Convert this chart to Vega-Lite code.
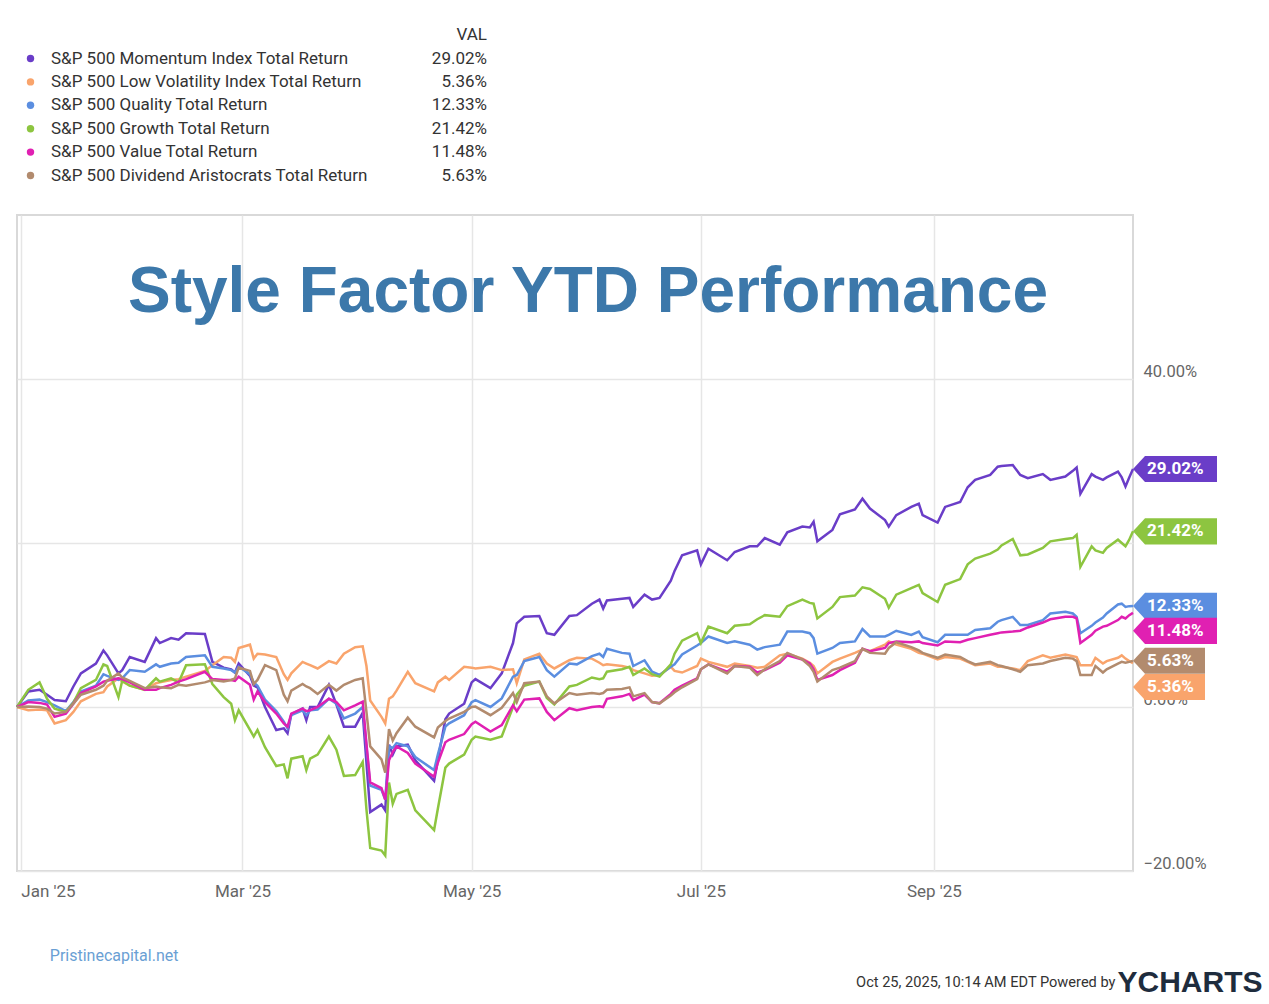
{
  "$schema": "https://vega.github.io/schema/vega-lite/v6.json",
  "width": 1116,
  "height": 656,
  "autosize": {"type": "none"},
  "padding": {"left": 17, "top": 215, "right": 136, "bottom": 133},
  "background": "#ffffff",
  "config": {
    "font": "Roboto",
    "view": {"stroke": "#d9d9d9", "strokeWidth": 2}
  },
  "title": {
    "text": "Style Factor YTD Performance",
    "font": "Liberation Sans",
    "fontSize": 64,
    "fontWeight": "bold",
    "color": "#3c78aa",
    "anchor": "middle",
    "frame": "group",
    "baseline": "alphabetic",
    "offset": -110,
    "dx": 13,
    "dy": 239
  },
  "datasets": {
    "series": [
      {"key": "m", "d": "2025-10-24", "pct": 29.02, "label": "29.02%"},
      {"key": "l", "d": "2025-10-24", "pct": 5.36, "label": "5.36%"},
      {"key": "q", "d": "2025-10-24", "pct": 12.33, "label": "12.33%"},
      {"key": "g", "d": "2025-10-24", "pct": 21.42, "label": "21.42%"},
      {"key": "v", "d": "2025-10-24", "pct": 11.48, "label": "11.48%"},
      {"key": "a", "d": "2025-10-24", "pct": 5.63, "label": "5.63%"}
    ],
    "perf": [
      {"d": "2024-12-31", "m": 0, "l": 0, "q": 0, "g": 0, "v": 0, "a": 0},
      {"d": "2025-01-03", "m": 1.9, "l": -0.4, "q": 0.8, "g": 2.1, "v": 0.6, "a": 0.05},
      {"d": "2025-01-06", "m": 2.1, "l": -0.3, "q": 0.9, "g": 3.0, "v": 0.5, "a": 0.0},
      {"d": "2025-01-08", "m": 1.5, "l": -0.4, "q": 0.6, "g": 1.0, "v": 0.3, "a": -0.2},
      {"d": "2025-01-10", "m": 0.85, "l": -2.0, "q": 0.2, "g": -0.2, "v": -1.2, "a": -0.8},
      {"d": "2025-01-13", "m": 0.7, "l": -1.6, "q": -0.5, "g": -0.6, "v": -0.8, "a": -0.6},
      {"d": "2025-01-15", "m": 2.5, "l": -0.6, "q": 0.6, "g": 0.5, "v": 0.4, "a": 0.4},
      {"d": "2025-01-17", "m": 4.1, "l": 0.7, "q": 1.9, "g": 2.3, "v": 1.7, "a": 1.5},
      {"d": "2025-01-21", "m": 5.3, "l": 1.6, "q": 2.6, "g": 3.3, "v": 2.5, "a": 2.1},
      {"d": "2025-01-23", "m": 6.9, "l": 1.8, "q": 4.0, "g": 5.2, "v": 3.1, "a": 2.6},
      {"d": "2025-01-24", "m": 6.3, "l": 2.5, "q": 3.8, "g": 5.0, "v": 3.2, "a": 3.2},
      {"d": "2025-01-27", "m": 4.1, "l": 3.5, "q": 3.3, "g": 1.2, "v": 3.5, "a": 4.1},
      {"d": "2025-01-28", "m": 4.5, "l": 3.1, "q": 3.5, "g": 3.2, "v": 3.4, "a": 3.6},
      {"d": "2025-01-30", "m": 6.1, "l": 2.6, "q": 4.5, "g": 2.6, "v": 3.0, "a": 3.2},
      {"d": "2025-02-03", "m": 5.5, "l": 2.1, "q": 4.3, "g": 2.1, "v": 2.1, "a": 2.3},
      {"d": "2025-02-06", "m": 8.4, "l": 2.9, "q": 5.2, "g": 3.5, "v": 2.1, "a": 2.5},
      {"d": "2025-02-07", "m": 7.8, "l": 3.0, "q": 4.9, "g": 3.1, "v": 2.3, "a": 2.4},
      {"d": "2025-02-10", "m": 8.4, "l": 3.3, "q": 5.3, "g": 3.5, "v": 2.7, "a": 2.3},
      {"d": "2025-02-12", "m": 8.2, "l": 3.4, "q": 5.4, "g": 3.0, "v": 3.1, "a": 2.7},
      {"d": "2025-02-14", "m": 9.0, "l": 3.7, "q": 6.1, "g": 5.1, "v": 3.4, "a": 2.6},
      {"d": "2025-02-19", "m": 8.9, "l": 4.4, "q": 6.3, "g": 5.2, "v": 4.3, "a": 3.0},
      {"d": "2025-02-21", "m": 5.5, "l": 5.1, "q": 4.9, "g": 2.8, "v": 3.4, "a": 3.3},
      {"d": "2025-02-24", "m": 4.8, "l": 6.1, "q": 4.7, "g": 1.2, "v": 3.3, "a": 3.1},
      {"d": "2025-02-26", "m": 4.6, "l": 6.0, "q": 4.5, "g": 0.4, "v": 3.3, "a": 3.3},
      {"d": "2025-02-27", "m": 4.2, "l": 5.5, "q": 4.2, "g": -1.6, "v": 3.2, "a": 3.5},
      {"d": "2025-02-28", "m": 5.3, "l": 7.2, "q": 4.9, "g": -0.4, "v": 3.7, "a": 4.8},
      {"d": "2025-03-03", "m": 3.8, "l": 7.6, "q": 4.0, "g": -2.8, "v": 2.7, "a": 4.4},
      {"d": "2025-03-04", "m": 2.6, "l": 5.9, "q": 3.0, "g": -3.6, "v": 0.9, "a": 2.8},
      {"d": "2025-03-05", "m": 2.4, "l": 6.5, "q": 2.6, "g": -2.8, "v": 1.9, "a": 3.3},
      {"d": "2025-03-07", "m": 0.0, "l": 6.4, "q": 0.9, "g": -4.9, "v": 0.6, "a": 5.1},
      {"d": "2025-03-10", "m": -2.8, "l": 6.1, "q": -0.5, "g": -7.2, "v": -0.8, "a": 4.5},
      {"d": "2025-03-12", "m": -2.6, "l": 4.0, "q": -1.8, "g": -7.0, "v": -2.0, "a": 1.5},
      {"d": "2025-03-13", "m": -3.2, "l": 3.3, "q": -2.6, "g": -8.7, "v": -2.4, "a": 0.7},
      {"d": "2025-03-14", "m": -0.9, "l": 4.1, "q": -1.0, "g": -6.3, "v": -0.8, "a": 2.0},
      {"d": "2025-03-17", "m": -0.2, "l": 5.5, "q": -0.4, "g": -6.0, "v": -0.2, "a": 2.8},
      {"d": "2025-03-18", "m": -1.6, "l": 5.3, "q": -1.0, "g": -7.7, "v": -0.5, "a": 2.5},
      {"d": "2025-03-19", "m": 0.0, "l": 5.1, "q": -0.4, "g": -6.3, "v": -0.4, "a": 2.3},
      {"d": "2025-03-21", "m": 0.0, "l": 4.7, "q": -0.3, "g": -5.8, "v": 0.0, "a": 1.6},
      {"d": "2025-03-24", "m": 2.7, "l": 5.6, "q": 1.0, "g": -3.6, "v": 1.0, "a": 2.7},
      {"d": "2025-03-26", "m": 0.3, "l": 5.3, "q": 0.4, "g": -5.2, "v": 0.6, "a": 2.0},
      {"d": "2025-03-28", "m": -2.4, "l": 6.5, "q": -1.4, "g": -8.4, "v": -0.4, "a": 2.7},
      {"d": "2025-03-31", "m": -2.4, "l": 7.3, "q": -0.8, "g": -8.3, "v": 0.2, "a": 3.3},
      {"d": "2025-04-02", "m": -0.7, "l": 7.4, "q": 0.0, "g": -6.7, "v": 0.65, "a": 3.5},
      {"d": "2025-04-03", "m": -6.8, "l": 5.0, "q": -4.8, "g": -12.5, "v": -4.5, "a": -0.6},
      {"d": "2025-04-04", "m": -12.8, "l": 0.8, "q": -9.6, "g": -17.2, "v": -9.2, "a": -4.8},
      {"d": "2025-04-07", "m": -11.9, "l": -1.2, "q": -10.1, "g": -17.5, "v": -9.9, "a": -6.4},
      {"d": "2025-04-08", "m": -12.6, "l": -2.0, "q": -11.3, "g": -18.1, "v": -11.3, "a": -8.0},
      {"d": "2025-04-09", "m": -4.6, "l": 1.0, "q": -4.8, "g": -9.2, "v": -6.5, "a": -2.7},
      {"d": "2025-04-10", "m": -5.8, "l": 1.3, "q": -5.0, "g": -11.8, "v": -5.5, "a": -4.1},
      {"d": "2025-04-11", "m": -4.8, "l": 2.0, "q": -4.4, "g": -10.6, "v": -4.8, "a": -3.2},
      {"d": "2025-04-14", "m": -4.6, "l": 4.3, "q": -4.8, "g": -10.1, "v": -5.6, "a": -1.3},
      {"d": "2025-04-16", "m": -6.5, "l": 2.9, "q": -6.1, "g": -12.6, "v": -6.9, "a": -2.4},
      {"d": "2025-04-21", "m": -9.0, "l": 1.9, "q": -7.7, "g": -15.0, "v": -8.5, "a": -3.7},
      {"d": "2025-04-22", "m": -6.5, "l": 3.0, "q": -5.8, "g": -12.4, "v": -6.8, "a": -2.5},
      {"d": "2025-04-24", "m": -1.5, "l": 3.7, "q": -2.4, "g": -7.4, "v": -4.3, "a": -1.7},
      {"d": "2025-04-25", "m": -0.8, "l": 3.3, "q": -2.0, "g": -6.9, "v": -4.0, "a": -1.4},
      {"d": "2025-04-29", "m": 0.4, "l": 4.9, "q": -1.0, "g": -5.8, "v": -3.3, "a": -0.6},
      {"d": "2025-05-01", "m": 3.0, "l": 4.8, "q": 0.6, "g": -4.0, "v": -2.1, "a": 0.0},
      {"d": "2025-05-02", "m": 3.4, "l": 4.7, "q": 0.85, "g": -3.6, "v": -1.8, "a": 0.05},
      {"d": "2025-05-06", "m": 2.3, "l": 4.9, "q": 0.0, "g": -4.0, "v": -3.0, "a": -1.0},
      {"d": "2025-05-09", "m": 4.1, "l": 4.5, "q": 1.05, "g": -3.6, "v": -2.2, "a": -0.1},
      {"d": "2025-05-12", "m": 7.8, "l": 4.6, "q": 3.7, "g": 0.0, "v": 0.2, "a": 1.7},
      {"d": "2025-05-13", "m": 10.2, "l": 2.9, "q": 3.9, "g": 1.5, "v": -0.5, "a": 0.6},
      {"d": "2025-05-15", "m": 11.0, "l": 5.8, "q": 5.6, "g": 2.6, "v": 0.9, "a": 2.9},
      {"d": "2025-05-19", "m": 11.1, "l": 6.5, "q": 6.1, "g": 3.1, "v": 1.05, "a": 3.1},
      {"d": "2025-05-21", "m": 9.0, "l": 5.3, "q": 4.5, "g": 1.1, "v": -0.6, "a": 1.3},
      {"d": "2025-05-23", "m": 8.8, "l": 4.7, "q": 3.7, "g": 0.3, "v": -1.6, "a": 0.45},
      {"d": "2025-05-27", "m": 11.1, "l": 5.7, "q": 5.3, "g": 2.5, "v": -0.15, "a": 1.7},
      {"d": "2025-05-29", "m": 11.2, "l": 6.0, "q": 5.2, "g": 2.7, "v": -0.4, "a": 1.5},
      {"d": "2025-06-02", "m": 12.6, "l": 5.9, "q": 6.2, "g": 3.6, "v": 0.0, "a": 1.7},
      {"d": "2025-06-04", "m": 13.1, "l": 5.4, "q": 6.5, "g": 3.4, "v": 0.1, "a": 1.6},
      {"d": "2025-06-05", "m": 12.0, "l": 5.1, "q": 6.1, "g": 3.5, "v": 0.0, "a": 1.7},
      {"d": "2025-06-06", "m": 13.0, "l": 5.2, "q": 7.1, "g": 4.3, "v": 1.0, "a": 2.1},
      {"d": "2025-06-10", "m": 13.2, "l": 5.0, "q": 6.6, "g": 4.6, "v": 1.3, "a": 2.2},
      {"d": "2025-06-12", "m": 13.3, "l": 4.8, "q": 6.5, "g": 4.9, "v": 1.6, "a": 2.4},
      {"d": "2025-06-13", "m": 12.2, "l": 4.5, "q": 5.0, "g": 3.9, "v": 0.85, "a": 1.3},
      {"d": "2025-06-16", "m": 13.7, "l": 4.1, "q": 5.7, "g": 4.7, "v": 1.5, "a": 1.7},
      {"d": "2025-06-18", "m": 13.1, "l": 3.8, "q": 4.3, "g": 4.0, "v": 0.6, "a": 0.6},
      {"d": "2025-06-20", "m": 13.3, "l": 3.9, "q": 3.9, "g": 3.7, "v": 0.45, "a": 0.45},
      {"d": "2025-06-23", "m": 15.4, "l": 4.9, "q": 4.9, "g": 5.2, "v": 1.6, "a": 1.4},
      {"d": "2025-06-24", "m": 16.6, "l": 4.4, "q": 5.2, "g": 6.5, "v": 2.1, "a": 1.8},
      {"d": "2025-06-26", "m": 18.5, "l": 4.2, "q": 6.4, "g": 8.1, "v": 2.6, "a": 2.4},
      {"d": "2025-06-30", "m": 19.1, "l": 5.0, "q": 7.5, "g": 9.0, "v": 3.5, "a": 3.4},
      {"d": "2025-07-01", "m": 17.4, "l": 5.9, "q": 7.8, "g": 7.8, "v": 4.6, "a": 4.6},
      {"d": "2025-07-03", "m": 19.3, "l": 5.5, "q": 8.6, "g": 9.8, "v": 5.2, "a": 5.2},
      {"d": "2025-07-08", "m": 17.9, "l": 4.9, "q": 7.8, "g": 9.0, "v": 4.3, "a": 4.1},
      {"d": "2025-07-10", "m": 18.9, "l": 5.3, "q": 8.0, "g": 9.9, "v": 5.0, "a": 5.0},
      {"d": "2025-07-14", "m": 19.6, "l": 5.0, "q": 7.6, "g": 10.1, "v": 4.9, "a": 4.8},
      {"d": "2025-07-16", "m": 19.6, "l": 4.8, "q": 7.0, "g": 10.7, "v": 4.2, "a": 3.9},
      {"d": "2025-07-18", "m": 20.6, "l": 4.9, "q": 7.3, "g": 11.2, "v": 4.5, "a": 4.6},
      {"d": "2025-07-22", "m": 19.8, "l": 6.3, "q": 7.6, "g": 11.0, "v": 5.4, "a": 5.6},
      {"d": "2025-07-24", "m": 21.3, "l": 6.5, "q": 9.2, "g": 12.3, "v": 6.3, "a": 6.6},
      {"d": "2025-07-28", "m": 22.0, "l": 5.9, "q": 9.2, "g": 13.1, "v": 5.8, "a": 5.8},
      {"d": "2025-07-30", "m": 21.9, "l": 5.4, "q": 9.0, "g": 12.7, "v": 5.3, "a": 5.0},
      {"d": "2025-07-31", "m": 22.6, "l": 5.0, "q": 8.4, "g": 12.6, "v": 4.6, "a": 4.3},
      {"d": "2025-08-01", "m": 20.2, "l": 4.1, "q": 6.5, "g": 10.8, "v": 3.3, "a": 3.1},
      {"d": "2025-08-05", "m": 21.6, "l": 5.5, "q": 7.2, "g": 12.2, "v": 3.9, "a": 4.5},
      {"d": "2025-08-07", "m": 23.5, "l": 5.9, "q": 7.8, "g": 13.4, "v": 4.5, "a": 4.8},
      {"d": "2025-08-11", "m": 24.1, "l": 6.6, "q": 8.0, "g": 13.6, "v": 5.4, "a": 5.6},
      {"d": "2025-08-13", "m": 25.4, "l": 7.0, "q": 9.5, "g": 14.6, "v": 7.1, "a": 7.1},
      {"d": "2025-08-15", "m": 24.2, "l": 6.8, "q": 8.6, "g": 14.4, "v": 6.8, "a": 6.6},
      {"d": "2025-08-19", "m": 22.8, "l": 7.6, "q": 8.6, "g": 13.2, "v": 7.2, "a": 6.5},
      {"d": "2025-08-20", "m": 22.0, "l": 8.0, "q": 8.8, "g": 12.1, "v": 7.8, "a": 7.2},
      {"d": "2025-08-22", "m": 23.4, "l": 7.6, "q": 9.3, "g": 13.7, "v": 8.0, "a": 7.9},
      {"d": "2025-08-26", "m": 24.4, "l": 7.1, "q": 8.8, "g": 14.5, "v": 7.9, "a": 7.3},
      {"d": "2025-08-28", "m": 24.8, "l": 6.6, "q": 9.2, "g": 14.9, "v": 8.0, "a": 6.9},
      {"d": "2025-08-29", "m": 23.4, "l": 6.5, "q": 8.5, "g": 13.9, "v": 7.8, "a": 6.6},
      {"d": "2025-09-02", "m": 22.5, "l": 5.8, "q": 7.9, "g": 12.8, "v": 7.5, "a": 6.0},
      {"d": "2025-09-04", "m": 24.4, "l": 6.1, "q": 8.8, "g": 14.9, "v": 8.0, "a": 6.4},
      {"d": "2025-09-08", "m": 25.0, "l": 5.9, "q": 8.8, "g": 15.6, "v": 7.9, "a": 6.1},
      {"d": "2025-09-10", "m": 26.8, "l": 5.5, "q": 8.8, "g": 17.4, "v": 8.2, "a": 5.6},
      {"d": "2025-09-12", "m": 27.7, "l": 5.1, "q": 9.4, "g": 18.1, "v": 8.4, "a": 5.2},
      {"d": "2025-09-16", "m": 28.3, "l": 5.3, "q": 9.6, "g": 18.7, "v": 8.8, "a": 5.5},
      {"d": "2025-09-18", "m": 29.3, "l": 4.9, "q": 10.4, "g": 19.2, "v": 9.0, "a": 5.1},
      {"d": "2025-09-19", "m": 29.4, "l": 4.9, "q": 10.6, "g": 19.7, "v": 9.1, "a": 5.0},
      {"d": "2025-09-22", "m": 29.5, "l": 4.7, "q": 11.0, "g": 20.5, "v": 9.2, "a": 4.6},
      {"d": "2025-09-24", "m": 28.3, "l": 4.5, "q": 10.0, "g": 18.5, "v": 9.3, "a": 4.3},
      {"d": "2025-09-26", "m": 27.9, "l": 5.6, "q": 10.0, "g": 18.6, "v": 9.7, "a": 5.1},
      {"d": "2025-09-30", "m": 28.4, "l": 6.3, "q": 10.6, "g": 19.4, "v": 10.3, "a": 5.3},
      {"d": "2025-10-02", "m": 27.7, "l": 6.0, "q": 11.4, "g": 20.2, "v": 10.7, "a": 5.6},
      {"d": "2025-10-06", "m": 28.1, "l": 6.4, "q": 11.6, "g": 20.5, "v": 11.0, "a": 6.0},
      {"d": "2025-10-08", "m": 28.8, "l": 6.2, "q": 11.4, "g": 20.6, "v": 11.0, "a": 5.9},
      {"d": "2025-10-09", "m": 29.2, "l": 6.1, "q": 11.0, "g": 21.0, "v": 10.8, "a": 5.6},
      {"d": "2025-10-10", "m": 26.0, "l": 5.1, "q": 9.0, "g": 17.1, "v": 7.8, "a": 3.9},
      {"d": "2025-10-13", "m": 28.4, "l": 5.1, "q": 9.9, "g": 19.6, "v": 8.8, "a": 3.9},
      {"d": "2025-10-14", "m": 28.1, "l": 6.0, "q": 10.3, "g": 19.1, "v": 9.3, "a": 5.0},
      {"d": "2025-10-16", "m": 27.7, "l": 5.3, "q": 10.9, "g": 18.8, "v": 9.8, "a": 4.2},
      {"d": "2025-10-17", "m": 28.0, "l": 5.6, "q": 11.4, "g": 19.4, "v": 9.9, "a": 4.6},
      {"d": "2025-10-20", "m": 28.7, "l": 6.0, "q": 12.5, "g": 20.4, "v": 10.6, "a": 5.3},
      {"d": "2025-10-21", "m": 28.0, "l": 6.3, "q": 12.6, "g": 20.0, "v": 11.0, "a": 5.5},
      {"d": "2025-10-22", "m": 26.9, "l": 5.9, "q": 12.2, "g": 19.6, "v": 10.8, "a": 5.4},
      {"d": "2025-10-23", "m": 28.0, "l": 5.6, "q": 12.3, "g": 20.4, "v": 11.2, "a": 5.5},
      {"d": "2025-10-24", "m": 29.02, "l": 5.36, "q": 12.33, "g": 21.42, "v": 11.48, "a": 5.63}
    ]
  },
  "layer": [
    {
      "data": {"name": "perf"},
      "transform": [
        {"fold": ["m", "l", "q", "g", "v", "a"], "as": ["key", "pct"]}
      ],
      "mark": {"type": "line", "strokeWidth": 2.5, "interpolate": "linear"},
      "encoding": {
        "x": {
          "field": "d",
          "type": "temporal",
          "scale": {
            "type": "utc",
            "domain": [
              {"year": 2024, "month": 12, "date": 31, "utc": true},
              {"year": 2025, "month": 10, "date": 24, "utc": true}
            ]
          },
          "axis": {
            "values": [
              {"year": 2025, "month": 1, "date": 1, "utc": true},
              {"year": 2025, "month": 3, "date": 1, "utc": true},
              {"year": 2025, "month": 5, "date": 1, "utc": true},
              {"year": 2025, "month": 7, "date": 1, "utc": true},
              {"year": 2025, "month": 9, "date": 1, "utc": true}
            ],
            "format": "%b '%y",
            "labelFlush": 10,
            "labelPadding": 12,
            "labelFont": "Roboto",
            "labelFontSize": 17,
            "labelColor": "#666666",
            "grid": true,
            "gridColor": "#e6e6e6",
            "gridWidth": 1.5,
            "domain": false,
            "ticks": false,
            "tickSize": 0,
            "zindex": 0,
            "title": "Oct 25, 2025, 10:14 AM EDT Powered by",
            "titleX": 1098,
            "titleY": 111,
            "titleAlign": "right",
            "titleBaseline": "middle",
            "titleFont": "Roboto",
            "titleFontSize": 14.6,
            "titleFontWeight": "normal",
            "titleColor": "#333333"
          }
        },
        "y": {
          "field": "pct",
          "type": "quantitative",
          "scale": {"domain": [-20, 60], "nice": false, "zero": false},
          "axis": {
            "orient": "right",
            "values": [-20, 0, 20, 40],
            "labelExpr": "format(datum.value, '.2f') + '%'",
            "labelBaseline": "bottom",
            "labelPadding": 10,
            "labelFont": "Roboto",
            "labelFontSize": 16.5,
            "labelColor": "#666666",
            "grid": true,
            "gridColor": "#e6e6e6",
            "gridWidth": 1.5,
            "domain": false,
            "ticks": false,
            "tickSize": 0,
            "zindex": 0,
            "title": "YCHARTS",
            "titleAngle": 0,
            "titleX": 129,
            "titleY": 767,
            "titleAlign": "right",
            "titleBaseline": "middle",
            "titleFont": "Liberation Sans",
            "titleFontSize": 30,
            "titleFontWeight": "bold",
            "titleColor": "#1e2c3d"
          }
        },
        "color": {
          "field": "key",
          "type": "nominal",
          "scale": {
            "domain": ["m", "l", "q", "g", "v", "a"],
            "range": ["#6a3dc8", "#f9a46c", "#5b8ee0", "#8dc540", "#e020b2", "#b28b6e"]
          },
          "legend": {
            "orient": "none",
            "legendX": 5,
            "legendY": -165,
            "direction": "vertical",
            "padding": 0,
            "title": "\u200b\u00a0\u00a0\u00a0\u00a0\u00a0\u00a0\u00a0Pristinecapital.net",
            "titleOrient": "bottom",
            "titlePadding": 764,
            "titleFont": "Roboto",
            "titleFontSize": 16,
            "titleFontWeight": "normal",
            "titleColor": "#6a9fd4",
            "symbolType": "circle",
            "symbolSize": 55,
            "labelFont": "Roboto",
            "labelFontSize": 17,
            "labelColor": "#333333",
            "labelOffset": 12,
            "labelLimit": 500,
            "rowPadding": 5.4,
            "labelExpr": "{'m': 'S&P 500 Momentum Index Total Return', 'l': 'S&P 500 Low Volatility Index Total Return', 'q': 'S&P 500 Quality Total Return', 'g': 'S&P 500 Growth Total Return', 'v': 'S&P 500 Value Total Return', 'a': 'S&P 500 Dividend Aristocrats Total Return'}[datum.label]",
            "encode": {
              "symbols": {
                "update": {
                  "fill": {"scale": "color", "field": "value"},
                  "fillOpacity": {"value": 1},
                  "strokeWidth": {"value": 0},
                  "size": {"value": 55},
                  "shape": {"value": "circle"}
                }
              }
            }
          }
        }
      }
    },
    {
      "data": {"name": "series"},
      "transform": [{"filter": "datum.key == 'm' || datum.key == 'g' || datum.key == 'q' || datum.key == 'a'"}],
      "encoding": {
        "x": {"field": "d", "type": "temporal"},
        "y": {"field": "pct", "type": "quantitative"}
      },
      "layer": [
        {
          "mark": {"type": "point", "filled": true, "opacity": 1, "size": 7056, "xOffset": 42, "strokeWidth": 0},
          "encoding": {
            "color": {"field": "key", "type": "nominal"},
            "shape": {
              "field": "label",
              "type": "nominal",
              "scale": {
                "domain": ["29.02%", "5.36%", "12.33%", "21.42%", "11.48%", "5.63%"],
                "range": [
                  "M-1,0L-0.714,-0.31L1,-0.31L1,0.31L-0.714,0.31Z",
                  "M-1,0L-0.714,-0.31L0.714,-0.31L0.714,0.31L-0.714,0.31Z",
                  "M-1,0L-0.714,-0.31L1,-0.31L1,0.31L-0.714,0.31Z",
                  "M-1,0L-0.714,-0.31L1,-0.31L1,0.31L-0.714,0.31Z",
                  "M-1,0L-0.714,-0.31L1,-0.31L1,0.31L-0.714,0.31Z",
                  "M-1,0L-0.714,-0.31L0.714,-0.31L0.714,0.31L-0.714,0.31Z"
                ]
              },
              "legend": {
                "orient": "none",
                "legendX": 440,
                "legendY": -188,
                "direction": "vertical",
                "padding": 0,
                "title": "VAL",
                "titleFont": "Roboto",
                "titleFontSize": 17,
                "titleFontWeight": "normal",
                "titleColor": "#333333",
                "titleAnchor": "end",
                "titleAlign": "right",
                "titlePadding": 6,
                "labelAlign": "right",
                "labelFont": "Roboto",
                "labelFontSize": 17,
                "labelColor": "#333333",
                "labelOffset": 0,
                "symbolSize": 0,
                "symbolOpacity": 0,
                "symbolStrokeWidth": 0,
                "rowPadding": 5.4,
                "encode": {
                  "symbols": {"update": {"size": {"value": 0}, "opacity": {"value": 0}}}
                }
              }
            }
          }
        },
        {
          "mark": {"type": "text", "align": "left", "baseline": "middle", "xOffset": 14, "color": "#ffffff", "font": "Roboto", "fontWeight": "bold", "fontSize": 17},
          "encoding": {"text": {"field": "label"}}
        }
      ]
    },
    {
      "data": {"name": "series"},
      "transform": [{"filter": "datum.key == 'v'"}],
      "encoding": {
        "x": {"field": "d", "type": "temporal"},
        "y": {"field": "pct", "type": "quantitative"}
      },
      "layer": [
        {
          "mark": {"type": "point", "filled": true, "opacity": 1, "size": 7056, "xOffset": 42, "yOffset": 18, "strokeWidth": 0},
          "encoding": {
            "color": {"field": "key", "type": "nominal"},
            "shape": {"field": "label", "type": "nominal"}
          }
        },
        {
          "mark": {"type": "text", "align": "left", "baseline": "middle", "xOffset": 14, "yOffset": 18, "color": "#ffffff", "font": "Roboto", "fontWeight": "bold", "fontSize": 17},
          "encoding": {"text": {"field": "label"}}
        }
      ]
    },
    {
      "data": {"name": "series"},
      "transform": [{"filter": "datum.key == 'l'"}],
      "encoding": {
        "x": {"field": "d", "type": "temporal"},
        "y": {"field": "pct", "type": "quantitative"}
      },
      "layer": [
        {
          "mark": {"type": "point", "filled": true, "opacity": 1, "size": 7056, "xOffset": 42, "yOffset": 24, "strokeWidth": 0},
          "encoding": {
            "color": {"field": "key", "type": "nominal"},
            "shape": {"field": "label", "type": "nominal"}
          }
        },
        {
          "mark": {"type": "text", "align": "left", "baseline": "middle", "xOffset": 14, "yOffset": 24, "color": "#ffffff", "font": "Roboto", "fontWeight": "bold", "fontSize": 17},
          "encoding": {"text": {"field": "label"}}
        }
      ]
    }
  ]
}
